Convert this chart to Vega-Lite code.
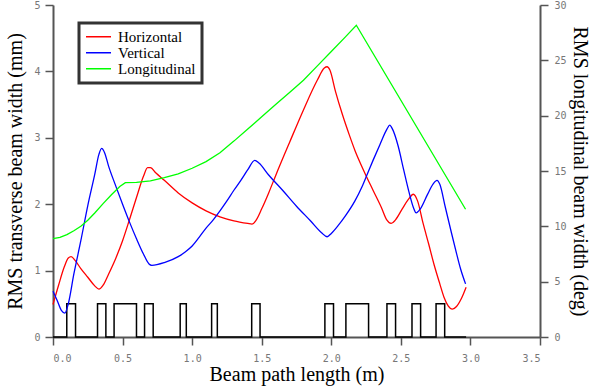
{
  "$schema": "https://vega.github.io/schema/vega-lite/v6.json",
  "width": 487,
  "height": 332,
  "autosize": "none",
  "padding": {"left": 53, "top": 5, "right": 51, "bottom": 50},
  "background": "white",
  "config": {
    "view": {"stroke": null},
    "axis": {
      "grid": false,
      "domainColor": "#555",
      "domainWidth": 2,
      "tickColor": "#555",
      "tickWidth": 1.5,
      "tickSize": 8,
      "labelFont": "DejaVu Sans Mono",
      "labelFontSize": 10,
      "labelColor": "#777",
      "titleFont": "Liberation Serif",
      "titleFontSize": 20,
      "titleFontWeight": "normal",
      "titleColor": "black"
    },
    "legend": {
      "labelFont": "Liberation Serif, serif",
      "labelFontSize": 15,
      "labelColor": "black",
      "strokeColor": "#333",
      "strokeWidth": 3,
      "fillColor": "white",
      "padding": 6,
      "rowPadding": 0,
      "labelOffset": 6
    }
  },
  "datasets": {
    "transverse": [
      {"s": 0.00, "w": 0.49, "series": "Horizontal"},
      {"s": 0.04, "w": 0.78, "series": "Horizontal"},
      {"s": 0.08, "w": 1.05, "series": "Horizontal"},
      {"s": 0.11, "w": 1.19, "series": "Horizontal"},
      {"s": 0.13, "w": 1.21, "series": "Horizontal"},
      {"s": 0.16, "w": 1.15, "series": "Horizontal"},
      {"s": 0.20, "w": 1.03, "series": "Horizontal"},
      {"s": 0.25, "w": 0.90, "series": "Horizontal"},
      {"s": 0.30, "w": 0.77, "series": "Horizontal"},
      {"s": 0.33, "w": 0.72, "series": "Horizontal"},
      {"s": 0.36, "w": 0.78, "series": "Horizontal"},
      {"s": 0.40, "w": 0.95, "series": "Horizontal"},
      {"s": 0.45, "w": 1.18, "series": "Horizontal"},
      {"s": 0.50, "w": 1.45, "series": "Horizontal"},
      {"s": 0.55, "w": 1.77, "series": "Horizontal"},
      {"s": 0.60, "w": 2.10, "series": "Horizontal"},
      {"s": 0.65, "w": 2.42, "series": "Horizontal"},
      {"s": 0.68, "w": 2.55, "series": "Horizontal"},
      {"s": 0.70, "w": 2.55, "series": "Horizontal"},
      {"s": 0.74, "w": 2.47, "series": "Horizontal"},
      {"s": 0.80, "w": 2.36, "series": "Horizontal"},
      {"s": 0.90, "w": 2.17, "series": "Horizontal"},
      {"s": 1.00, "w": 2.02, "series": "Horizontal"},
      {"s": 1.10, "w": 1.90, "series": "Horizontal"},
      {"s": 1.20, "w": 1.81, "series": "Horizontal"},
      {"s": 1.30, "w": 1.75, "series": "Horizontal"},
      {"s": 1.40, "w": 1.71, "series": "Horizontal"},
      {"s": 1.43, "w": 1.70, "series": "Horizontal"},
      {"s": 1.46, "w": 1.76, "series": "Horizontal"},
      {"s": 1.50, "w": 1.93, "series": "Horizontal"},
      {"s": 1.55, "w": 2.17, "series": "Horizontal"},
      {"s": 1.60, "w": 2.43, "series": "Horizontal"},
      {"s": 1.70, "w": 2.93, "series": "Horizontal"},
      {"s": 1.80, "w": 3.42, "series": "Horizontal"},
      {"s": 1.90, "w": 3.87, "series": "Horizontal"},
      {"s": 1.95, "w": 4.05, "series": "Horizontal"},
      {"s": 1.97, "w": 4.07, "series": "Horizontal"},
      {"s": 1.99, "w": 4.02, "series": "Horizontal"},
      {"s": 2.03, "w": 3.70, "series": "Horizontal"},
      {"s": 2.08, "w": 3.35, "series": "Horizontal"},
      {"s": 2.13, "w": 3.04, "series": "Horizontal"},
      {"s": 2.17, "w": 2.81, "series": "Horizontal"},
      {"s": 2.23, "w": 2.52, "series": "Horizontal"},
      {"s": 2.30, "w": 2.21, "series": "Horizontal"},
      {"s": 2.36, "w": 1.95, "series": "Horizontal"},
      {"s": 2.40, "w": 1.76, "series": "Horizontal"},
      {"s": 2.43, "w": 1.71, "series": "Horizontal"},
      {"s": 2.46, "w": 1.76, "series": "Horizontal"},
      {"s": 2.51, "w": 1.93, "series": "Horizontal"},
      {"s": 2.55, "w": 2.06, "series": "Horizontal"},
      {"s": 2.59, "w": 2.15, "series": "Horizontal"},
      {"s": 2.62, "w": 2.05, "series": "Horizontal"},
      {"s": 2.66, "w": 1.71, "series": "Horizontal"},
      {"s": 2.70, "w": 1.40, "series": "Horizontal"},
      {"s": 2.74, "w": 1.08, "series": "Horizontal"},
      {"s": 2.78, "w": 0.80, "series": "Horizontal"},
      {"s": 2.81, "w": 0.60, "series": "Horizontal"},
      {"s": 2.84, "w": 0.47, "series": "Horizontal"},
      {"s": 2.87, "w": 0.42, "series": "Horizontal"},
      {"s": 2.90, "w": 0.46, "series": "Horizontal"},
      {"s": 2.935, "w": 0.58, "series": "Horizontal"},
      {"s": 2.969, "w": 0.75, "series": "Horizontal"},
      {"s": 0.00, "w": 0.69, "series": "Vertical"},
      {"s": 0.03, "w": 0.55, "series": "Vertical"},
      {"s": 0.06, "w": 0.40, "series": "Vertical"},
      {"s": 0.085, "w": 0.36, "series": "Vertical"},
      {"s": 0.11, "w": 0.50, "series": "Vertical"},
      {"s": 0.15, "w": 0.95, "series": "Vertical"},
      {"s": 0.20, "w": 1.45, "series": "Vertical"},
      {"s": 0.25, "w": 1.98, "series": "Vertical"},
      {"s": 0.30, "w": 2.45, "series": "Vertical"},
      {"s": 0.33, "w": 2.75, "series": "Vertical"},
      {"s": 0.35, "w": 2.84, "series": "Vertical"},
      {"s": 0.37, "w": 2.78, "series": "Vertical"},
      {"s": 0.40, "w": 2.57, "series": "Vertical"},
      {"s": 0.45, "w": 2.28, "series": "Vertical"},
      {"s": 0.50, "w": 2.00, "series": "Vertical"},
      {"s": 0.55, "w": 1.73, "series": "Vertical"},
      {"s": 0.60, "w": 1.48, "series": "Vertical"},
      {"s": 0.65, "w": 1.25, "series": "Vertical"},
      {"s": 0.69, "w": 1.10, "series": "Vertical"},
      {"s": 0.71, "w": 1.08, "series": "Vertical"},
      {"s": 0.80, "w": 1.12, "series": "Vertical"},
      {"s": 0.90, "w": 1.21, "series": "Vertical"},
      {"s": 0.95, "w": 1.28, "series": "Vertical"},
      {"s": 1.00, "w": 1.37, "series": "Vertical"},
      {"s": 1.05, "w": 1.50, "series": "Vertical"},
      {"s": 1.10, "w": 1.64, "series": "Vertical"},
      {"s": 1.15, "w": 1.76, "series": "Vertical"},
      {"s": 1.20, "w": 1.90, "series": "Vertical"},
      {"s": 1.25, "w": 2.05, "series": "Vertical"},
      {"s": 1.30, "w": 2.21, "series": "Vertical"},
      {"s": 1.35, "w": 2.36, "series": "Vertical"},
      {"s": 1.40, "w": 2.52, "series": "Vertical"},
      {"s": 1.45, "w": 2.66, "series": "Vertical"},
      {"s": 1.48, "w": 2.62, "series": "Vertical"},
      {"s": 1.55, "w": 2.44, "series": "Vertical"},
      {"s": 1.65, "w": 2.21, "series": "Vertical"},
      {"s": 1.75, "w": 1.97, "series": "Vertical"},
      {"s": 1.85, "w": 1.75, "series": "Vertical"},
      {"s": 1.93, "w": 1.57, "series": "Vertical"},
      {"s": 1.97, "w": 1.51, "series": "Vertical"},
      {"s": 2.00, "w": 1.56, "series": "Vertical"},
      {"s": 2.05, "w": 1.68, "series": "Vertical"},
      {"s": 2.10, "w": 1.82, "series": "Vertical"},
      {"s": 2.17, "w": 2.05, "series": "Vertical"},
      {"s": 2.22, "w": 2.26, "series": "Vertical"},
      {"s": 2.26, "w": 2.46, "series": "Vertical"},
      {"s": 2.30, "w": 2.66, "series": "Vertical"},
      {"s": 2.35, "w": 2.90, "series": "Vertical"},
      {"s": 2.40, "w": 3.13, "series": "Vertical"},
      {"s": 2.42, "w": 3.19, "series": "Vertical"},
      {"s": 2.44, "w": 3.13, "series": "Vertical"},
      {"s": 2.48, "w": 2.88, "series": "Vertical"},
      {"s": 2.52, "w": 2.52, "series": "Vertical"},
      {"s": 2.56, "w": 2.17, "series": "Vertical"},
      {"s": 2.59, "w": 1.95, "series": "Vertical"},
      {"s": 2.61, "w": 1.87, "series": "Vertical"},
      {"s": 2.64, "w": 1.93, "series": "Vertical"},
      {"s": 2.69, "w": 2.14, "series": "Vertical"},
      {"s": 2.73, "w": 2.30, "series": "Vertical"},
      {"s": 2.76, "w": 2.36, "series": "Vertical"},
      {"s": 2.78, "w": 2.30, "series": "Vertical"},
      {"s": 2.82, "w": 1.95, "series": "Vertical"},
      {"s": 2.86, "w": 1.60, "series": "Vertical"},
      {"s": 2.90, "w": 1.26, "series": "Vertical"},
      {"s": 2.93, "w": 1.02, "series": "Vertical"},
      {"s": 2.965, "w": 0.80, "series": "Vertical"}
    ],
    "longitudinal": [
      {"s": 0.00, "d": 8.89, "series": "Longitudinal"},
      {"s": 0.05, "d": 9.0, "series": "Longitudinal"},
      {"s": 0.10, "d": 9.25, "series": "Longitudinal"},
      {"s": 0.15, "d": 9.6, "series": "Longitudinal"},
      {"s": 0.20, "d": 10.0, "series": "Longitudinal"},
      {"s": 0.25, "d": 10.55, "series": "Longitudinal"},
      {"s": 0.30, "d": 11.2, "series": "Longitudinal"},
      {"s": 0.36, "d": 12.05, "series": "Longitudinal"},
      {"s": 0.42, "d": 12.85, "series": "Longitudinal"},
      {"s": 0.48, "d": 13.6, "series": "Longitudinal"},
      {"s": 0.52, "d": 13.95, "series": "Longitudinal"},
      {"s": 0.60, "d": 13.98, "series": "Longitudinal"},
      {"s": 0.70, "d": 14.1, "series": "Longitudinal"},
      {"s": 0.80, "d": 14.4, "series": "Longitudinal"},
      {"s": 0.90, "d": 14.75, "series": "Longitudinal"},
      {"s": 1.00, "d": 15.25, "series": "Longitudinal"},
      {"s": 1.10, "d": 15.85, "series": "Longitudinal"},
      {"s": 1.20, "d": 16.65, "series": "Longitudinal"},
      {"s": 1.30, "d": 17.7, "series": "Longitudinal"},
      {"s": 1.40, "d": 18.8, "series": "Longitudinal"},
      {"s": 1.50, "d": 19.9, "series": "Longitudinal"},
      {"s": 1.60, "d": 21.0, "series": "Longitudinal"},
      {"s": 1.70, "d": 22.1, "series": "Longitudinal"},
      {"s": 1.80, "d": 23.2, "series": "Longitudinal"},
      {"s": 1.90, "d": 24.5, "series": "Longitudinal"},
      {"s": 2.00, "d": 25.8, "series": "Longitudinal"},
      {"s": 2.10, "d": 27.1, "series": "Longitudinal"},
      {"s": 2.18, "d": 28.17, "series": "Longitudinal"},
      {"s": 2.965, "d": 11.54, "series": "Longitudinal"}
    ],
    "layout": [
      {"s": 0.0, "h": 0},
      {"s": 0.099, "h": 0.5},
      {"s": 0.162, "h": 0},
      {"s": 0.320, "h": 0.5},
      {"s": 0.380, "h": 0},
      {"s": 0.439, "h": 0.5},
      {"s": 0.600, "h": 0},
      {"s": 0.658, "h": 0.5},
      {"s": 0.720, "h": 0},
      {"s": 0.914, "h": 0.5},
      {"s": 0.958, "h": 0},
      {"s": 1.140, "h": 0.5},
      {"s": 1.181, "h": 0},
      {"s": 1.428, "h": 0.5},
      {"s": 1.488, "h": 0},
      {"s": 1.954, "h": 0.5},
      {"s": 2.016, "h": 0},
      {"s": 2.105, "h": 0.5},
      {"s": 2.268, "h": 0},
      {"s": 2.400, "h": 0.5},
      {"s": 2.462, "h": 0},
      {"s": 2.580, "h": 0.5},
      {"s": 2.642, "h": 0},
      {"s": 2.753, "h": 0.5},
      {"s": 2.815, "h": 0},
      {"s": 2.969, "h": 0}
    ]
  },
  "layer": [
    {
      "layer": [
        {
          "data": {"name": "layout"},
          "mark": {"type": "line", "interpolate": "step-after", "color": "black", "strokeWidth": 1.5},
          "encoding": {
            "x": {"field": "s", "type": "quantitative", "scale": {"domain": [0, 3.5], "nice": false},
              "axis": {"values": [0, 0.5, 1, 1.5, 2, 2.5, 3, 3.5], "format": ".1f", "title": "Beam path length (m)", "labelPadding": 8, "titlePadding": 1}},
            "y": {"field": "h", "type": "quantitative", "scale": {"domain": [0, 5], "nice": false},
              "axis": {"orient": "left", "values": [0, 1, 2, 3, 4, 5], "format": "d", "title": "RMS transverse beam width (mm)", "labelPadding": 5, "titlePadding": 8}}
          }
        },
        {
          "data": {"name": "transverse"},
          "mark": {"type": "line", "interpolate": "monotone", "strokeWidth": 1.3},
          "encoding": {
            "x": {"field": "s", "type": "quantitative"},
            "y": {"field": "w", "type": "quantitative"},
            "color": {"field": "series", "type": "nominal",
              "scale": {"domain": ["Horizontal", "Vertical", "Longitudinal"], "range": ["#ff0000", "#0000ff", "#00ff00"]},
              "legend": {"title": null, "orient": "none", "legendX": 26, "legendY": 18,
                "labelFont": "Liberation Serif, serif", "labelFontSize": 15, "clipHeight": 15.5, "labelLimit": 200,
                "symbolType": "stroke", "symbolSize": 625, "symbolStrokeWidth": 1.5}}
          }
        }
      ]
    },
    {
      "data": {"name": "longitudinal"},
      "mark": {"type": "line", "strokeWidth": 1.3},
      "encoding": {
        "x": {"field": "s", "type": "quantitative"},
        "y": {"field": "d", "type": "quantitative", "scale": {"domain": [0, 30], "nice": false},
          "axis": {"orient": "right", "values": [0, 5, 10, 15, 20, 25, 30], "format": "d", "title": "RMS longitudinal beam width (deg)", "labelPadding": 6, "titlePadding": 3}},
        "color": {"field": "series", "type": "nominal"}
      }
    }
  ],
  "resolve": {"scale": {"y": "independent"}}
}
